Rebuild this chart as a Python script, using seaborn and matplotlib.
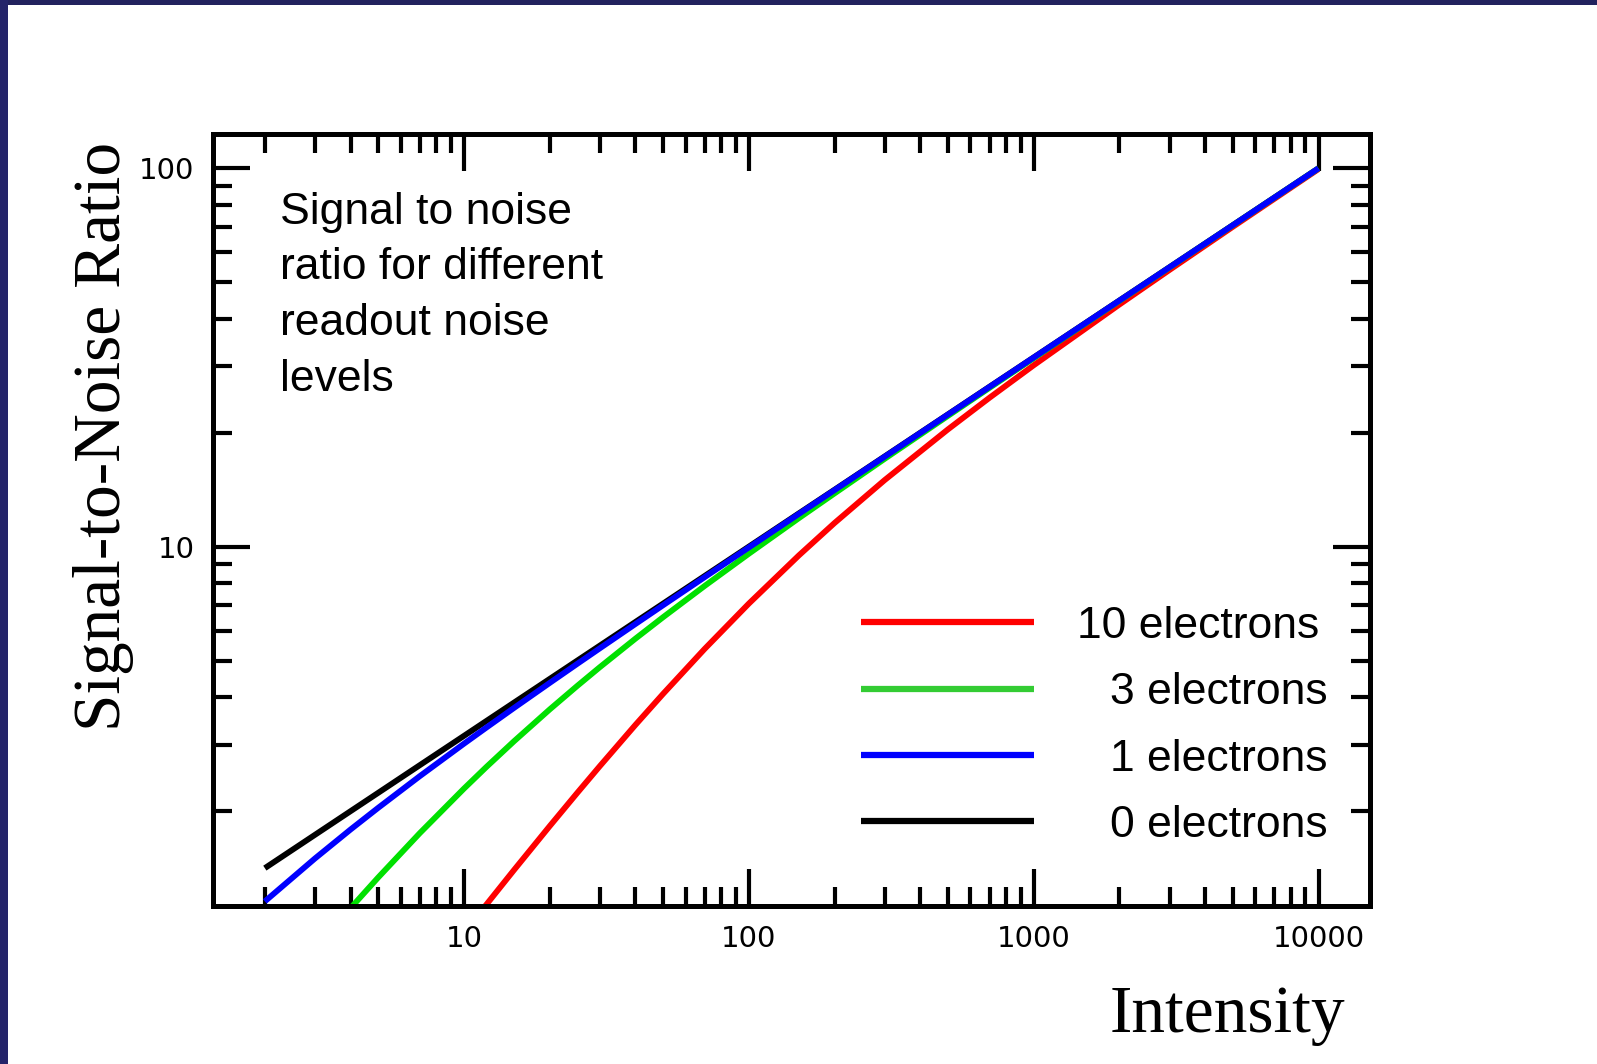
import matplotlib
matplotlib.use("Agg")
import matplotlib.pyplot as plt
import matplotlib.ticker as mticker
from matplotlib.lines import Line2D
from matplotlib.patches import Rectangle
from matplotlib.font_manager import FontProperties
import numpy as np
import pandas as pd
import seaborn as sns

# Intensity samples (signal, electrons) shared by all curves
intensity = [2, 3, 4, 5, 7, 10, 12, 15, 20, 25, 30, 40, 50, 70, 100, 150,
             200, 300, 500, 700, 1000, 2000, 3000, 5000, 10000]

# Signal-to-noise ratio for each readout noise level
snr_0e = [1.414, 1.732, 2.000, 2.236, 2.646, 3.162, 3.464, 3.873, 4.472, 5.000,
          5.477, 6.325, 7.071, 8.367, 10.00, 12.25, 14.14, 17.32, 22.36, 26.46,
          31.62, 44.72, 54.77, 70.71, 100.0]
snr_1e = [1.155, 1.500, 1.789, 2.041, 2.475, 3.015, 3.328, 3.750, 4.364, 4.903,
          5.388, 6.247, 7.001, 8.307, 9.950, 12.21, 14.11, 17.29, 22.34, 26.44,
          31.61, 44.71, 54.76, 70.70, 99.99]
snr_3e = [0.603, 0.866, 1.109, 1.336, 1.750, 2.294, 2.619, 3.062, 3.714, 4.287,
          4.804, 5.714, 6.509, 7.876, 9.578, 11.90, 13.83, 17.07, 22.16, 26.29,
          31.48, 44.62, 54.69, 70.65, 99.96]
snr_10e = [0.198, 0.296, 0.392, 0.488, 0.677, 0.953, 1.134, 1.399, 1.826, 2.236,
           2.631, 3.381, 4.082, 5.369, 7.071, 9.487, 11.55, 15.00, 20.41, 24.75,
           30.15, 43.64, 53.88, 70.01, 99.50]

series_names = ["0 electrons", "10 electrons", "3 electrons", "1 electrons"]
series_values = [snr_0e, snr_10e, snr_3e, snr_1e]
legend_labels = ["10 electrons", "3 electrons", "1 electrons", "0 electrons"]
x_tick_labels = ["10", "100", "1000", "10000"]
y_tick_labels = ["10", "100"]

line_colors = {"0 electrons": "#000000", "10 electrons": "#ff0000",
               "3 electrons": "#00e000", "1 electrons": "#0000ff"}
key_colors = {"10 electrons": "#ff0000", "3 electrons": "#33cc33",
              "1 electrons": "#0000ff", "0 electrons": "#000000"}

df = pd.concat(
    [pd.DataFrame({"intensity": intensity, "snr": vals, "noise": name})
     for name, vals in zip(series_names, series_values)],
    ignore_index=True,
)

sns.set_style("white")
plt.rcParams["font.family"] = ["DejaVu Sans"]
plt.rcParams.update({"text.color": "black", "axes.labelcolor": "black",
                     "xtick.color": "black", "ytick.color": "black",
                     "xtick.labelcolor": "black", "ytick.labelcolor": "black"})

W, H = 1597, 1064
fig = plt.figure(figsize=(W / 100, H / 100), dpi=100)
fig.patch.set_facecolor("white")

# slide border bands
fig.patches.append(Rectangle((0, 1 - 5 / H), 1, 5 / H, transform=fig.transFigure,
                             facecolor="#22225e", edgecolor="none", zorder=0))
fig.patches.append(Rectangle((0, 0), 8 / W, 1, transform=fig.transFigure,
                             facecolor="#24246a", edgecolor="none", zorder=0))

left, right, top, bottom = 212.5, 1369.5, 133.7, 906.0
ax = fig.add_axes([left / W, 1 - bottom / H, (right - left) / W, (bottom - top) / H])
ax.set_facecolor("white")

sns.lineplot(data=df, x="intensity", y="snr", hue="noise", hue_order=series_names,
             palette=line_colors, linewidth=4.2, estimator=None, sort=False,
             legend=False, ax=ax, solid_capstyle="butt")

ax.set_xscale("log")
ax.set_yscale("log")
ax.set_xlim(1.31, 15100)
ax.set_ylim(1.123, 123.4)

ax.xaxis.set_major_locator(mticker.FixedLocator([10, 100, 1000, 10000]))
ax.xaxis.set_major_formatter(mticker.FixedFormatter(x_tick_labels))
ax.yaxis.set_major_locator(mticker.FixedLocator([10, 100]))
ax.yaxis.set_major_formatter(mticker.FixedFormatter(y_tick_labels))
ax.xaxis.set_minor_locator(mticker.LogLocator(base=10, subs=np.arange(2, 10), numticks=20))
ax.yaxis.set_minor_locator(mticker.LogLocator(base=10, subs=np.arange(2, 10), numticks=20))
ax.xaxis.set_minor_formatter(mticker.NullFormatter())
ax.yaxis.set_minor_formatter(mticker.NullFormatter())

for sp in ax.spines.values():
    sp.set_visible(True)
    sp.set_linewidth(3.6)
    sp.set_color("black")

ax.tick_params(which="both", direction="in", top=True, right=True,
               bottom=True, left=True, color="black", width=3)
ax.tick_params(which="major", length=26.5)
ax.tick_params(which="minor", length=14)
ax.tick_params(axis="x", which="major", labelsize=21, pad=14, labelcolor="black")
ax.tick_params(axis="y", which="major", labelsize=21, pad=13, labelcolor="black")

serif = FontProperties(family="Liberation Serif", size=48.5)
ax.set_ylabel("Signal-to-Noise Ratio", fontproperties=serif, color="black")
ax.yaxis.label.set_va("center")
ax.yaxis.set_label_coords(-0.094, 0.6075)
ax.set_xlabel("Intensity", fontproperties=serif, color="black")
ax.xaxis.label.set_va("baseline")
ax.xaxis.set_label_coords(0.877, -0.163)

sans = FontProperties(family="Liberation Sans", size=32)
ax.text(0.058, 0.925, "Signal to noise\nratio for different\nreadout noise\nlevels",
        transform=ax.transAxes, ha="left", va="top", fontproperties=sans,
        linespacing=1.46, color="black")

handles = [Line2D([], [], color=key_colors[k], linewidth=4.5, solid_capstyle="butt")
           for k in legend_labels]
leg = ax.legend(handles, legend_labels, loc="center left",
                bbox_to_anchor=(0.5606, 0.233), frameon=False, prop=sans,
                handlelength=3.89, handletextpad=1.71, labelspacing=0.57,
                borderpad=0, borderaxespad=0, labelcolor="black")
leg.get_texts()[0].set_x(-33)

fig.savefig("out.png", dpi=100, facecolor="white")
